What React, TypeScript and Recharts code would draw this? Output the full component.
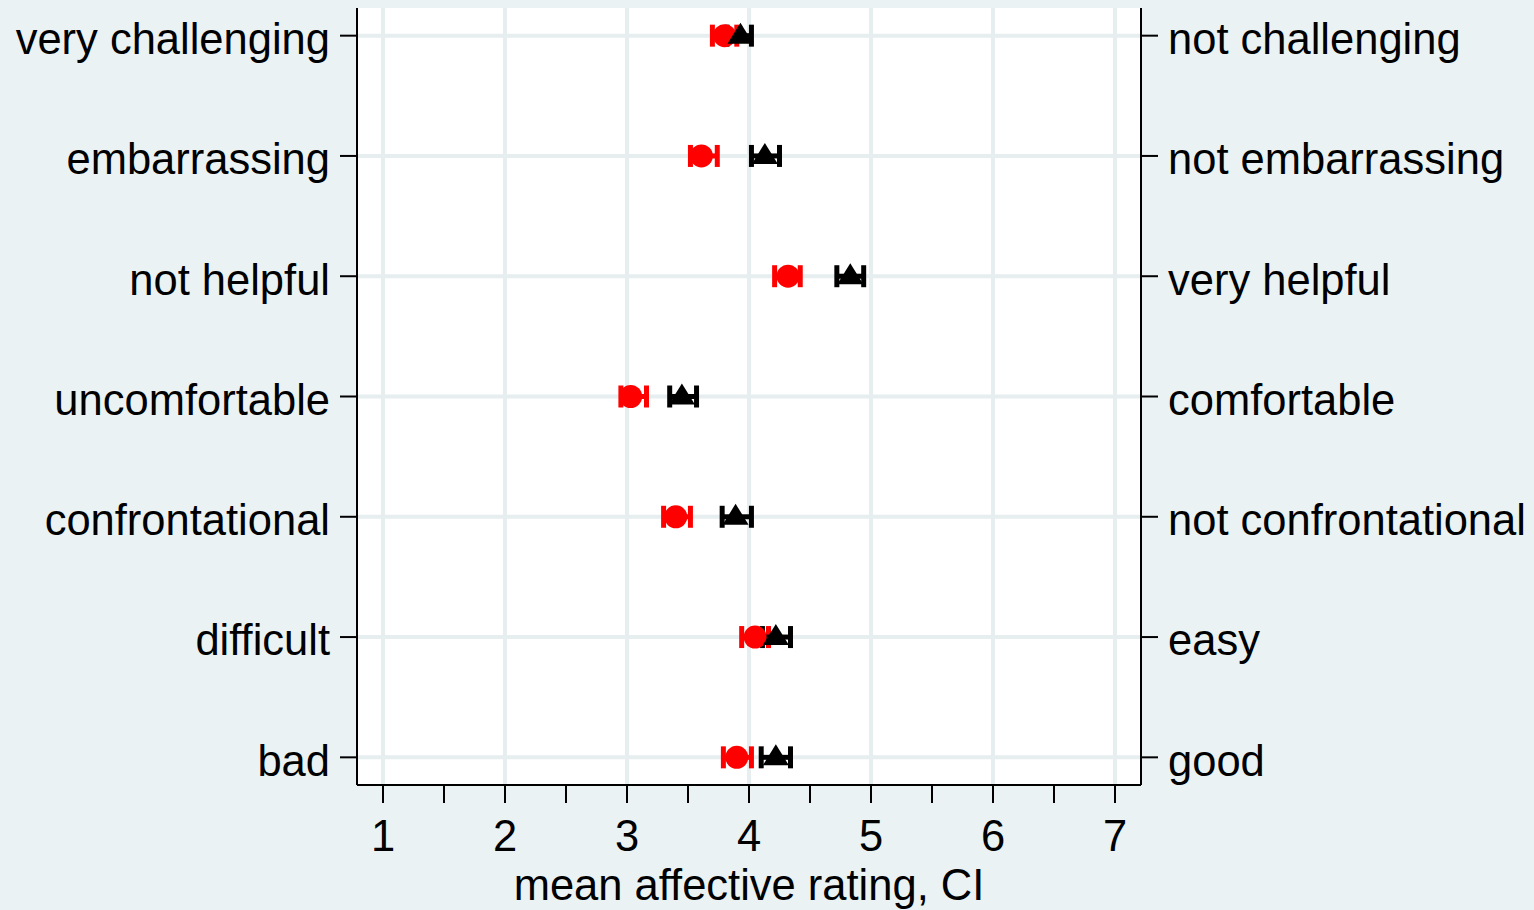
import React from 'react';
import {
  ScatterChart,
  Scatter,
  XAxis,
  YAxis,
  CartesianGrid,
  ErrorBar,
} from 'recharts';

const leftLabels = [
  'very challenging',
  'embarrassing',
  'not helpful',
  'uncomfortable',
  'confrontational',
  'difficult',
  'bad',
];
const rightLabels = [
  'not challenging',
  'not embarrassing',
  'very helpful',
  'comfortable',
  'not confrontational',
  'easy',
  'good',
];

// red circles
const redMean = [3.8, 3.61, 4.32, 3.03, 3.4, 4.05, 3.9];
const redLow = [3.7, 3.52, 4.21, 2.95, 3.3, 3.94, 3.79];
const redHigh = [3.9, 3.74, 4.42, 3.16, 3.52, 4.16, 4.02];

// black triangles
const blackMean = [3.93, 4.13, 4.83, 3.45, 3.89, 4.22, 4.22];
const blackLow = [3.82, 4.02, 4.72, 3.35, 3.78, 4.11, 4.1];
const blackHigh = [4.02, 4.25, 4.94, 3.57, 4.02, 4.34, 4.34];

const xTicks = [1, 1.5, 2, 2.5, 3, 3.5, 4, 4.5, 5, 5.5, 6, 6.5, 7];
const xGrid = [1, 2, 3, 4, 5, 6, 7];
const rowTicks = [1, 2, 3, 4, 5, 6, 7];

const BG = '#eaf2f3';
const GRID = '#e6eef0';
const FONT = '"Liberation Sans", Arial, sans-serif';

function build(mean: number[], low: number[], high: number[]) {
  return mean.map((m, i) => ({
    x: m,
    y: i + 1,
    err: [m - low[i], high[i] - m],
  }));
}

const redData = build(redMean, redLow, redHigh);
const blackData = build(blackMean, blackLow, blackHigh);

const tickStyle = { fill: '#000', fontSize: 43.5, fontFamily: FONT };
const yTickStyle = { ...tickStyle, dy: 3 };

function Circle(props: any) {
  const { cx, cy } = props;
  return <circle cx={cx} cy={cy} r={11.5} fill="#ff0000" />;
}

function Triangle(props: any) {
  const { cx, cy } = props;
  return (
    <polygon
      points={`${cx},${cy - 13} ${cx - 13},${cy + 8} ${cx + 13},${cy + 8}`}
      fill="#000"
    />
  );
}

export default function App() {
  return (
    <div style={{ position: 'absolute', left: 0, top: 0, width: 1534, height: 910, background: BG }}>
      <ScatterChart width={1534} height={910} margin={{ top: 8, right: 0, bottom: 0, left: 0 }}>
        <CartesianGrid
          yAxisId="left"
          fill="#ffffff"
          stroke={GRID}
          strokeWidth={4}
          verticalValues={xGrid}
          horizontalValues={rowTicks}
        />
        <XAxis
          type="number"
          dataKey="x"
          domain={[0.787, 7.213]}
          ticks={xTicks}
          interval={0}
          height={125}
          tickSize={18}
          tickMargin={17}
          tickFormatter={(v: number) => (Number.isInteger(v) ? String(v) : '')}
          tick={tickStyle}
          axisLine={{ stroke: '#000', strokeWidth: 2 }}
          tickLine={{ stroke: '#000', strokeWidth: 2 }}
          allowDataOverflow
          label={{
            value: 'mean affective rating, CI',
            position: 'insideBottom',
            offset: 10,
            fill: '#000',
            fontSize: 43.5,
            fontFamily: FONT,
          }}
        />
        <YAxis
          yAxisId="left"
          type="number"
          dataKey="y"
          reversed
          domain={[0.77, 7.23]}
          ticks={rowTicks}
          interval={0}
          width={357}
          tickSize={17}
          tickMargin={10}
          tickFormatter={(v: number) => leftLabels[v - 1] ?? ''}
          tick={yTickStyle}
          axisLine={{ stroke: '#000', strokeWidth: 2 }}
          tickLine={{ stroke: '#000', strokeWidth: 2 }}
          allowDataOverflow
        />
        <YAxis
          yAxisId="right"
          orientation="right"
          type="number"
          dataKey="y"
          reversed
          domain={[0.77, 7.23]}
          ticks={rowTicks}
          interval={0}
          width={393}
          tickSize={17}
          tickMargin={10}
          tickFormatter={(v: number) => rightLabels[v - 1] ?? ''}
          tick={yTickStyle}
          axisLine={{ stroke: '#000', strokeWidth: 2 }}
          tickLine={{ stroke: '#000', strokeWidth: 2 }}
          allowDataOverflow
        />
        <Scatter yAxisId="left" data={redData} shape={Circle} isAnimationActive={false}>
          <ErrorBar dataKey="err" direction="x" width={11} stroke="#ff0000" strokeWidth={5} />
        </Scatter>
        <Scatter yAxisId="right" data={blackData} shape={Triangle} isAnimationActive={false}>
          <ErrorBar dataKey="err" direction="x" width={11} stroke="#000" strokeWidth={5} />
        </Scatter>
      </ScatterChart>
    </div>
  );
}
